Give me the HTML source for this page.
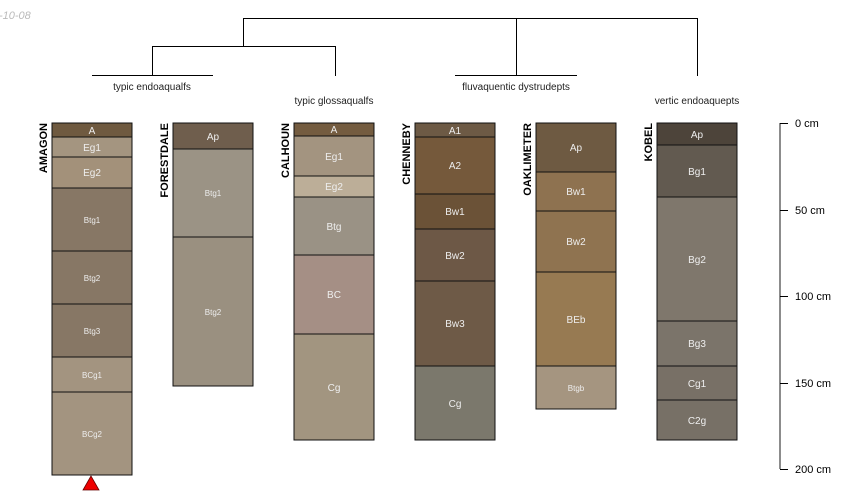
<!DOCTYPE html>
<html><head><style>body{margin:0;background:#fff}svg{display:block;font-family:"Liberation Sans",sans-serif}</style></head><body>
<svg width="850" height="500" viewBox="0 0 850 500" xmlns="http://www.w3.org/2000/svg">
<text x="-1" y="19" font-size="11" font-style="italic" fill="#bbb">-10-08</text>
<g stroke="#000" stroke-width="1" fill="none">
<path d="M243.5 46V18.5H697.5V76M516.5 18.5V75.5M152.5 75V46.5H335.5V76M92 75.5H213M455 75.5H577"/>
</g>
<g font-size="10" fill="#222" text-anchor="middle">
<text x="152" y="90">typic endoaqualfs</text>
<text x="334" y="104">typic glossaqualfs</text>
<text x="516" y="90">fluvaquentic dystrudepts</text>
<text x="697" y="104">vertic endoaquepts</text>
</g>
<g font-size="11" font-weight="bold" fill="#000">
<text transform="translate(47,123) rotate(-90)" text-anchor="end">AMAGON</text>
<text transform="translate(168,123) rotate(-90)" text-anchor="end">FORESTDALE</text>
<text transform="translate(289,123) rotate(-90)" text-anchor="end">CALHOUN</text>
<text transform="translate(410,123) rotate(-90)" text-anchor="end">CHENNEBY</text>
<text transform="translate(531,123) rotate(-90)" text-anchor="end">OAKLIMETER</text>
<text transform="translate(652,123) rotate(-90)" text-anchor="end">KOBEL</text>
</g>
<g stroke="#111" stroke-width="1" font-size="10" text-anchor="middle">
<rect x="52" y="123" width="80" height="14" fill="#6f5a40"/>
<rect x="52" y="137" width="80" height="20" fill="#a49580"/>
<rect x="52" y="157" width="80" height="31" fill="#a3917a"/>
<rect x="52" y="188" width="80" height="63" fill="#877765"/>
<rect x="52" y="251" width="80" height="53" fill="#877765"/>
<rect x="52" y="304" width="80" height="53" fill="#877765"/>
<rect x="52" y="357" width="80" height="35" fill="#a39480"/>
<rect x="52" y="392" width="80" height="83" fill="#a39480"/>
<rect x="173" y="123" width="80" height="26" fill="#6f5e4d"/>
<rect x="173" y="149" width="80" height="88" fill="#9b9385"/>
<rect x="173" y="237" width="80" height="149" fill="#9a9080"/>
<rect x="294" y="123" width="80" height="13" fill="#745c40"/>
<rect x="294" y="136" width="80" height="40" fill="#a39480"/>
<rect x="294" y="176" width="80" height="21" fill="#bcae98"/>
<rect x="294" y="197" width="80" height="58" fill="#9a9285"/>
<rect x="294" y="255" width="80" height="79" fill="#a58f85"/>
<rect x="294" y="334" width="80" height="106" fill="#a29580"/>
<rect x="415" y="123" width="80" height="14" fill="#6d5a45"/>
<rect x="415" y="137" width="80" height="57" fill="#75593b"/>
<rect x="415" y="194" width="80" height="35" fill="#6b5237"/>
<rect x="415" y="229" width="80" height="52" fill="#6d5846"/>
<rect x="415" y="281" width="80" height="85" fill="#6e5a47"/>
<rect x="415" y="366" width="80" height="74" fill="#7b786c"/>
<rect x="536" y="123" width="80" height="49" fill="#6e5a42"/>
<rect x="536" y="172" width="80" height="39" fill="#8e7250"/>
<rect x="536" y="211" width="80" height="61" fill="#8f7350"/>
<rect x="536" y="272" width="80" height="94" fill="#977a52"/>
<rect x="536" y="366" width="80" height="43" fill="#a59580"/>
<rect x="657" y="123" width="80" height="22" fill="#4d443a"/>
<rect x="657" y="145" width="80" height="52" fill="#625a50"/>
<rect x="657" y="197" width="80" height="124" fill="#7f776c"/>
<rect x="657" y="321" width="80" height="45" fill="#7b746a"/>
<rect x="657" y="366" width="80" height="34" fill="#787066"/>
<rect x="657" y="400" width="80" height="40" fill="#777066"/>
</g>
<g fill="#eee" font-size="10" text-anchor="middle">
<text x="92" y="134">A</text><text x="92" y="151">Eg1</text><text x="92" y="176">Eg2</text>
<text x="92" y="223" font-size="8">Btg1</text><text x="92" y="281" font-size="8">Btg2</text><text x="92" y="334" font-size="8">Btg3</text>
<text x="92" y="378" font-size="8">BCg1</text><text x="92" y="437" font-size="8">BCg2</text>
<text x="213" y="140">Ap</text><text x="213" y="196" font-size="8">Btg1</text><text x="213" y="315" font-size="8">Btg2</text>
<text x="334" y="133">A</text><text x="334" y="160">Eg1</text><text x="334" y="190">Eg2</text><text x="334" y="230">Btg</text><text x="334" y="298">BC</text><text x="334" y="391">Cg</text>
<text x="455" y="134">A1</text><text x="455" y="169">A2</text><text x="455" y="215">Bw1</text><text x="455" y="259">Bw2</text><text x="455" y="327">Bw3</text><text x="455" y="407">Cg</text>
<text x="576" y="151">Ap</text><text x="576" y="195">Bw1</text><text x="576" y="245">Bw2</text><text x="576" y="323">BEb</text><text x="576" y="391" font-size="8">Btgb</text>
<text x="697" y="138">Ap</text><text x="697" y="175">Bg1</text><text x="697" y="263">Bg2</text><text x="697" y="347">Bg3</text><text x="697" y="387">Cg1</text><text x="697" y="424">C2g</text>
</g>
<polygon points="91,476 83,490 99,490" fill="#e00" stroke="#600" stroke-width="0.8"/>
<g stroke="#666" stroke-width="1.5"><path d="M780 123V469"/></g>
<g stroke="#000" stroke-width="1"><path d="M780 123.5H788M780 210.5H788M780 296.5H788M780 383.5H788M780 469.5H788"/></g>
<g font-size="11" fill="#000">
<text x="795" y="127">0 cm</text><text x="795" y="214">50 cm</text><text x="795" y="300">100 cm</text><text x="795" y="387">150 cm</text><text x="795" y="473">200 cm</text>
</g>
</svg>
</body></html>
